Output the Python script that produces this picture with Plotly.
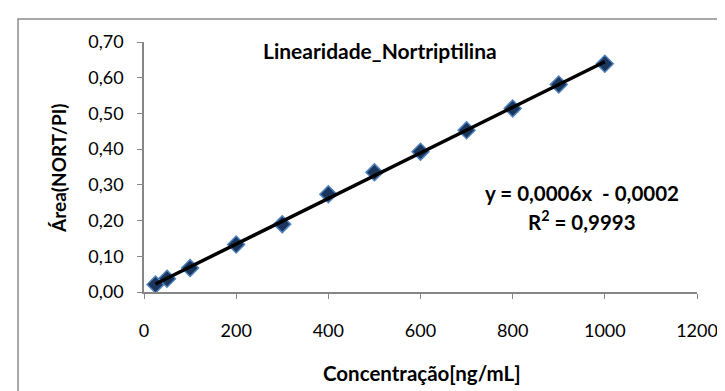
import numpy as np
import plotly.graph_objects as go

# Data
concentracao = [25, 50, 100, 200, 300, 400, 500, 600, 700, 800, 900, 1000]
area = [0.021, 0.037, 0.067, 0.133, 0.190, 0.274, 0.335, 0.393, 0.453, 0.514, 0.581, 0.639]
y_ticks = [0.0, 0.1, 0.2, 0.3, 0.4, 0.5, 0.6, 0.7]
y_tick_labels = ["0,00", "0,10", "0,20", "0,30", "0,40", "0,50", "0,60", "0,70"]
x_ticks = [0, 200, 400, 600, 800, 1000, 1200]
title_text = "Linearidade_Nortriptilina"
equation_text = "y = 0,0006x  - 0,0002"
r2_text = "R<sup>2</sup> = 0,9993"
x_title = "Concentração[ng/mL]"
y_title = "Área(NORT/PI)"

# Linear trendline from data
slope, intercept = np.polyfit(concentracao, area, 1)
trend_x = [min(concentracao), max(concentracao)]
trend_y = [slope * v + intercept for v in trend_x]

FONT = "Lato"
W, H = 725, 391
L, R, T, B = 136, 36, 34, 107
pw, ph = W - L - R, H - T - B

fig = go.Figure()
fig.add_trace(go.Scatter(
    x=concentracao, y=area, mode="markers",
    marker=dict(symbol="diamond", size=13, color="#1A365C",
                line=dict(color="#4F81BD", width=1.5)),
    showlegend=False, hoverinfo="x+y"))
fig.add_trace(go.Scatter(
    x=trend_x, y=trend_y, mode="lines",
    line=dict(color="black", width=3.5), showlegend=False))

def px2paper_x(px):
    return (px - L) / pw

def px2paper_y(py):
    return (H - B - py) / ph

fig.update_layout(
    width=W, height=H,
    margin=dict(l=L, r=R, t=T, b=B),
    paper_bgcolor="white", plot_bgcolor="white",
    font=dict(family=FONT, size=18, color="black"),
    xaxis=dict(range=[0, 1200], tickvals=x_ticks, ticks="outside", ticklen=5,
               tickcolor="#868686", showline=True, linecolor="#868686", linewidth=1.5,
               showgrid=False, zeroline=False, tickfont=dict(size=18),
               ticklabelstandoff=17),
    yaxis=dict(range=[0, 0.7], tickvals=y_ticks, ticktext=y_tick_labels, ticks="outside",
               ticklen=5, tickcolor="#868686", showline=True, linecolor="#868686", linewidth=1.5,
               showgrid=False, zeroline=False, tickfont=dict(size=18),
               ticklabelstandoff=10),
    shapes=[dict(type="rect", xref="paper", yref="paper",
                 x0=px2paper_x(10), x1=px2paper_x(740),
                 y0=px2paper_y(400), y1=px2paper_y(11),
                 line=dict(color="#8C8C8C", width=1.5), fillcolor="rgba(0,0,0,0)", layer="below")],
    annotations=[
        dict(text="<b>" + title_text + "</b>", xref="paper", yref="paper",
             x=px2paper_x(372), y=px2paper_y(42), showarrow=False,
             font=dict(size=21), xanchor="center", yanchor="middle"),
        dict(text="<b>" + equation_text + "</b>", xref="paper", yref="paper",
             x=px2paper_x(574), y=px2paper_y(185), showarrow=False,
             font=dict(size=20.5), xanchor="center", yanchor="middle"),
        dict(text="<b>" + r2_text + "</b>", xref="paper", yref="paper",
             x=px2paper_x(574), y=px2paper_y(212), showarrow=False,
             font=dict(size=20.5), xanchor="center", yanchor="middle"),
        dict(text="<b>" + x_title + "</b>", xref="paper", yref="paper",
             x=px2paper_x(414), y=px2paper_y(365), showarrow=False,
             font=dict(size=20.5), xanchor="center", yanchor="middle"),
        dict(text="<b>" + y_title + "</b>", xref="paper", yref="paper",
             x=px2paper_x(50), y=px2paper_y(160), showarrow=False, textangle=-90,
             font=dict(size=19), xanchor="center", yanchor="middle"),
    ],
)

fig.write_html("out.html")
